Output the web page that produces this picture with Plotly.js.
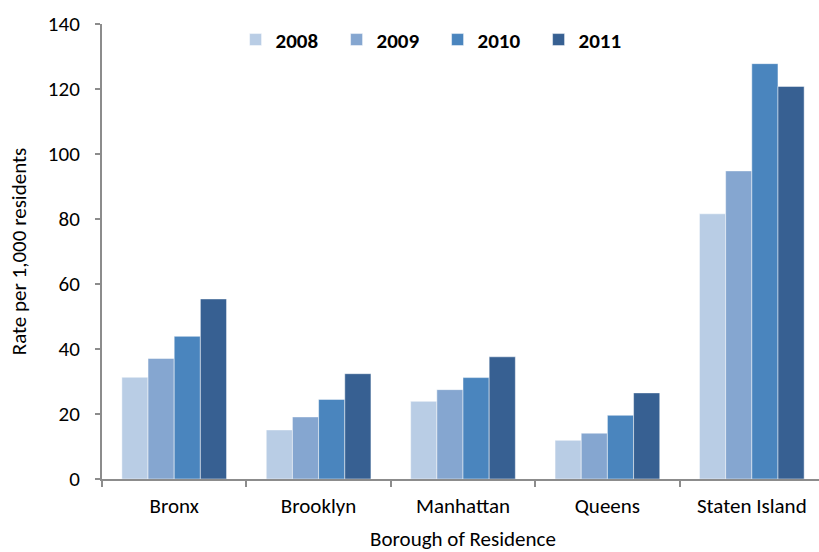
<!DOCTYPE html>
<html>
<head>
<meta charset="utf-8">
<script src="https://cdn.plot.ly/plotly-3.0.1.min.js"></script>
<style>
html,body{margin:0;padding:0;overflow:hidden;background:#fff;}
#chart{width:826px;height:552px;}
</style>
</head>
<body>
<div id="chart"></div>
<script>
const boroughs = ["Bronx", "Brooklyn", "Manhattan", "Queens", "Staten Island"];
const years = ["2008", "2009", "2010", "2011"];
const rate2008 = [31.3, 15.1, 23.9, 11.9, 81.6];
const rate2009 = [37.1, 19.1, 27.5, 14.1, 94.8];
const rate2010 = [43.9, 24.5, 31.2, 19.6, 127.8];
const rate2011 = [55.4, 32.4, 37.6, 26.5, 120.8];
const colors = ["#B9CDE5", "#85A6D0", "#4A85BE", "#376092"];

const series = [rate2008, rate2009, rate2010, rate2011];
const font = "Carlito, Calibri, Lato, sans-serif";

const traces = series.map((vals, i) => ({
  type: "bar",
  name: years[i],
  x: boroughs,
  y: vals,
  marker: {color: colors[i], line: {color: "rgba(255,255,255,0.8)", width: 0.6}},
  hoverinfo: "none"
}));

const layout = {
  width: 826,
  height: 552,
  margin: {l: 102, r: 2, t: 24, b: 73, pad: 0},
  paper_bgcolor: "#fff",
  plot_bgcolor: "#fff",
  font: {family: font, color: "#000"},
  barmode: "group",
  bargap: 0.275,
  bargroupgap: 0,
  showlegend: true,
  legend: {
    orientation: "h",
    x: 0.185, xanchor: "left",
    y: 0.965, yanchor: "middle",
    font: {family: font, size: 21, color: "#000", weight: "bold"},
    bgcolor: "rgba(0,0,0,0)",
    itemwidth: 30,
    entrywidth: 56,
    traceorder: "normal"
  },
  xaxis: {
    type: "category",
    showline: true,
    linecolor: "#8c8c8c",
    linewidth: 2,
    ticks: "outside",
    tickson: "boundaries",
    ticklen: 6,
    tickwidth: 2,
    tickcolor: "#8c8c8c",
    tickfont: {family: font, size: 21, color: "#000"},
    ticklabelstandoff: 7,
    showgrid: false,
    title: {text: "Borough of Residence", font: {family: font, size: 21, color: "#000"}, standoff: 16},
    fixedrange: true
  },
  yaxis: {
    range: [0, 140],
    dtick: 20,
    showline: true,
    linecolor: "#8c8c8c",
    linewidth: 2,
    ticks: "outside",
    ticklen: 5,
    tickwidth: 2,
    tickcolor: "#8c8c8c",
    tickfont: {family: font, size: 21, color: "#000"},
    ticklabelstandoff: 11,
    showgrid: false,
    zeroline: false,
    title: {text: "Rate per 1,000 residents", font: {family: font, size: 21, color: "#000"}, standoff: 16},
    fixedrange: true
  }
};

Plotly.newPlot("chart", traces, layout, {displayModeBar: false, staticPlot: true});
</script>
</body>
</html>
